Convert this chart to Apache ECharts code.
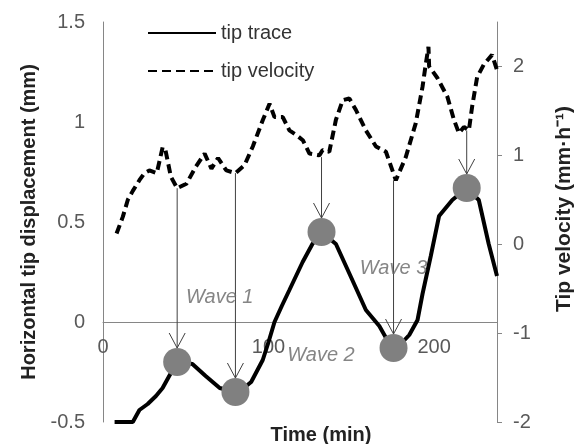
<!DOCTYPE html>
<html>
<head>
<meta charset="utf-8">
<script src="https://cdn.jsdelivr.net/npm/echarts@6/dist/echarts.min.js"></script>
<style>
  html, body { margin: 0; padding: 0; background: #fff; }
  #chart { width: 575px; height: 444px; }
</style>
</head>
<body>
<div id="chart"></div>
<script>
// tip trace: [time (min), horizontal displacement (mm)]
var tipTrace = [
  [7, -0.5], [18, -0.5], [22, -0.44], [27, -0.41], [32, -0.37], [36, -0.33], [40, -0.27],
  [44.8, -0.2], [54, -0.21], [62, -0.27], [70.5, -0.33], [80, -0.35], [85, -0.33],
  [89.5, -0.3], [96.5, -0.19], [100, -0.1], [103.6, 0], [108, 0.08], [112.6, 0.16],
  [120.6, 0.3], [126.5, 0.39], [132, 0.45], [140.7, 0.39], [150.6, 0.21], [158.8, 0.06],
  [166.9, -0.02], [171, -0.08], [175.5, -0.13], [181, -0.1], [185, -0.065], [190, 0.01],
  [193, 0.14], [198, 0.33], [203, 0.53], [211, 0.61], [219.7, 0.67], [227, 0.61],
  [233, 0.39], [238, 0.23]
];

// tip velocity: [time (min), velocity (mm/h)]
var tipVelocity = [
  [8.2, 0.12], [12, 0.31], [15, 0.5], [18, 0.6], [22, 0.72], [25, 0.8], [28, 0.83],
  [32.5, 0.8], [36, 1.09], [37.5, 1.08], [41, 0.76], [44.8, 0.63], [50.4, 0.68], [56, 0.87],
  [61.4, 1.02], [65.5, 0.85], [69.5, 0.97], [74.5, 0.83], [80, 0.8], [85.5, 0.89],
  [90.5, 1.1], [96.6, 1.4], [100.6, 1.58], [103.6, 1.43], [108.6, 1.43], [112.6, 1.28],
  [116.7, 1.23], [120.7, 1.17], [124.7, 1.02], [130.7, 1.0], [132.7, 1.06], [136.7, 1.04],
  [140.7, 1.4], [144.8, 1.62], [148.8, 1.64], [152.8, 1.51], [158.8, 1.28], [164.9, 1.1],
  [170.9, 1.04], [176.9, 0.72], [182.9, 0.98], [188.9, 1.36], [193, 1.77], [195, 2.03],
  [196.6, 2.22], [197, 2.0], [202, 1.87], [208, 1.66], [212, 1.4], [215, 1.25],
  [218, 1.32], [221, 1.28], [223, 1.55], [226, 1.88], [230, 2.02], [235, 2.13], [238, 1.96]
];

// turning points on the trace (gray dots)
var turnPoints = [[44.8, -0.2], [80, -0.35], [132, 0.45], [175.5, -0.13], [219.7, 0.67]];

// arrows: [time, velocity at start, displacement of the dot]
var arrows = [[44.8, 0.63, -0.2], [80, 0.8, -0.35], [132, 0.98, 0.45], [175.5, 0.72, -0.13], [219.7, 1.28, 0.67]];

var waveNames = ['Wave 1', 'Wave 2', 'Wave 3'];
var wavePos = [[70.5, 0.125], [131.7, -0.165], [175.5, 0.27]];

var dispRange = [-0.5, 1.5];
var velRange = [-2, 2.5];
var xTicks = [0, 100, 200];
var dispTicks = [-0.5, 0, 0.5, 1, 1.5];
var velTicks = [-2, -1, 0, 1, 2];

function velToDisp(v) {
  return dispRange[0] + (v - velRange[0]) / (velRange[1] - velRange[0]) * (dispRange[1] - dispRange[0]);
}

var dom = document.getElementById('chart');
var myChart = echarts.init(dom, null, { renderer: 'canvas' });

var font = 'Liberation Sans, Arial, sans-serif';
var axisGray = '#868686';

var option = {
  backgroundColor: '#fff',
  animation: false,
  textStyle: { fontFamily: font },
  grid: { left: 103, right: 78, top: 22, bottom: 22, containLabel: false, outerBoundsMode: 'none' },
  legend: {
    data: ['tip trace', 'tip velocity'],
    orient: 'vertical',
    left: 142,
    top: 18,
    itemWidth: 68,
    itemHeight: 14,
    itemGap: 18,
    itemStyle: { opacity: 0 },
    textStyle: { fontSize: 20, color: '#333', fontFamily: font }
  },
  xAxis: {
    type: 'value',
    min: 0,
    max: 238,
    interval: 100,
    offset: -100,
    name: 'Time (min)',
    nameLocation: 'middle',
    nameGap: 103,
    nameTextStyle: { fontSize: 20, fontWeight: 'bold', color: '#222', padding: [0, 0, 0, 42] },
    axisLine: { onZero: false, lineStyle: { color: axisGray } },
    axisTick: { show: false },
    axisLabel: { customValues: xTicks, fontSize: 20, color: '#595959', margin: 15 },
    splitLine: { show: false }
  },
  yAxis: [
    {
      type: 'value',
      min: dispRange[0],
      max: dispRange[1],
      interval: 0.5,
      name: 'Horizontal tip displacement (mm)',
      nameLocation: 'middle',
      nameRotate: 90,
      nameGap: 58,
      nameTextStyle: { fontSize: 20, fontWeight: 'bold', color: '#222' },
      axisLine: { show: true, lineStyle: { color: axisGray } },
      axisTick: { show: false },
      axisLabel: { customValues: dispTicks, fontSize: 20, color: '#595959', margin: 18 },
      splitLine: { show: false }
    },
    {
      type: 'value',
      position: 'right',
      min: velRange[0],
      max: velRange[1],
      interval: 1,
      name: 'Tip velocity (mm\u00b7h\u207b\u00b9)',
      nameLocation: 'middle',
      nameRotate: 90,
      nameGap: 57,
      nameTextStyle: { fontSize: 21, fontWeight: 'bold', color: '#222', padding: [0, 0, 0, 26] },
      axisLine: { show: true, lineStyle: { color: axisGray } },
      axisTick: { show: true, customValues: velTicks, length: 5, lineStyle: { color: axisGray } },
      axisLabel: { customValues: velTicks, fontSize: 20, color: '#595959', margin: 16 },
      splitLine: { show: false }
    }
  ],
  series: [
    {
      name: 'tip velocity',
      type: 'line',
      yAxisIndex: 1,
      data: tipVelocity,
      symbol: 'none',
      lineStyle: { color: '#000', width: 4, type: [9, 5] },
      itemStyle: { color: '#000' },
      z: 2
    },
    {
      name: 'tip trace',
      type: 'line',
      yAxisIndex: 0,
      data: tipTrace,
      symbol: 'none',
      lineStyle: { color: '#000', width: 4 },
      itemStyle: { color: '#000' },
      z: 3
    },
    {
      name: 'arrows',
      type: 'custom',
      yAxisIndex: 0,
      data: arrows,
      encode: { x: 0, y: 2 },
      silent: true,
      z: 4,
      renderItem: function (params, api) {
        var t = api.value(0);
        var top = api.coord([t, velToDisp(api.value(1))]);
        var dot = api.coord([t, api.value(2)]);
        var tipY = dot[1] - 14;
        return {
          type: 'group',
          children: [
            {
              type: 'line',
              shape: { x1: top[0], y1: top[1], x2: dot[0], y2: tipY },
              style: { stroke: '#404040', lineWidth: 1 }
            },
            {
              type: 'polyline',
              shape: { points: [[dot[0] - 8, tipY - 15], [dot[0], tipY], [dot[0] + 8, tipY - 15]] },
              style: { stroke: '#404040', fill: null, lineWidth: 1 }
            }
          ]
        };
      }
    },
    {
      name: 'turns',
      type: 'scatter',
      yAxisIndex: 0,
      data: turnPoints,
      symbol: 'circle',
      symbolSize: 28,
      itemStyle: { color: '#808080', opacity: 1 },
      silent: true,
      z: 5
    },
    {
      name: 'waves',
      type: 'scatter',
      yAxisIndex: 0,
      data: waveNames.map(function (n, i) {
        return { name: n, value: wavePos[i] };
      }),
      symbolSize: 0,
      silent: true,
      label: {
        show: true,
        position: 'inside',
        formatter: '{b}',
        fontSize: 20,
        fontStyle: 'italic',
        color: '#666',
        fontFamily: font
      },
      z: 6
    }
  ]
};

if (option && typeof option === 'object') {
  myChart.setOption(option);
}

window.addEventListener('resize', myChart.resize);
</script>
</body>
</html>
